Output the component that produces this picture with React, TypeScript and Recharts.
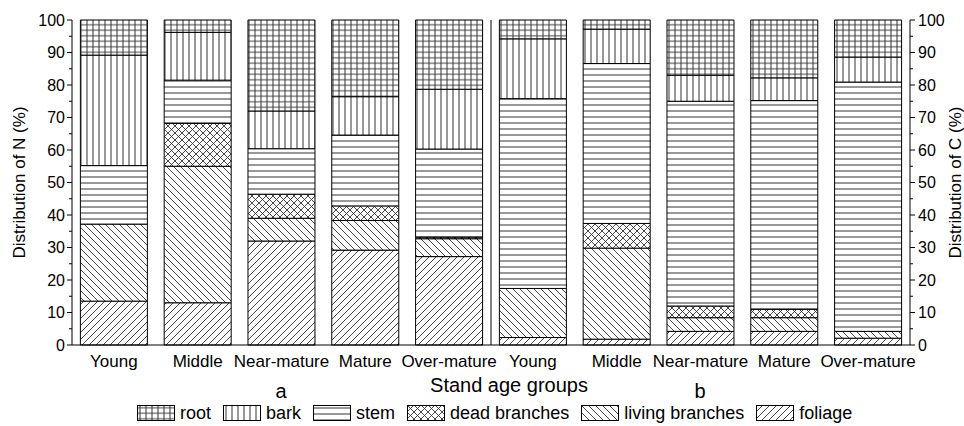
import React from "react";
import { BarChart, Bar, Line, XAxis, YAxis, ReferenceLine } from "recharts";

// stand age groups, two panels: a = N, b = C
const groups = ["Young", "Middle", "Near-mature", "Mature", "Over-mature"];
const panels = ["a", "b"];

// % share of each organ, per panel (a first, then b)
const foliage = [13.5, 13.0, 32.0, 29.2, 27.2, 2.3, 1.8, 4.2, 4.2, 2.1];
const living = [23.7, 42.0, 7.0, 9.1, 5.5, 15.1, 28.0, 4.2, 4.2, 2.1];
const dead = [0, 13.2, 7.4, 4.5, 0.5, 0, 7.6, 3.6, 2.6, 0];
const stem = [18.0, 13.3, 14.0, 21.8, 27.1, 58.4, 49.2, 63.0, 64.2, 76.7];
const bark = [34.0, 14.7, 11.6, 11.8, 18.4, 18.4, 10.6, 8.0, 7.0, 7.7];
const root = [10.8, 3.8, 28.0, 23.6, 21.3, 5.8, 2.8, 17.0, 17.8, 11.4];

const yTicks = [0, 5, 10, 15, 20, 25, 30, 35, 40, 45, 50, 55, 60, 65, 70, 75, 80, 85, 90, 95, 100];

const series = [
  { key: "foliage", label: "foliage", fill: "url(#pFoliage)" },
  { key: "living", label: "living branches", fill: "url(#pLiving)" },
  { key: "dead", label: "dead branches", fill: "url(#pDead)" },
  { key: "stem", label: "stem", fill: "url(#pStem)" },
  { key: "bark", label: "bark", fill: "url(#pBark)" },
  { key: "root", label: "root", fill: "url(#pRoot)" },
];

const data = panels.flatMap((p, pi) =>
  groups.map((g, gi) => {
    const i = pi * groups.length + gi;
    return {
      key: `${g}|${p}`,
      name: g,
      foliage: foliage[i],
      living: living[i],
      dead: dead[i],
      stem: stem[i],
      bark: bark[i],
      root: root[i],
    };
  })
);

const FONT = "Arial, 'Liberation Sans', sans-serif";
const LINE = "#333";

function Patterns() {
  return (
    <svg width={0} height={0} style={{ position: "absolute" }}>
      <defs>
        <pattern id="pRoot" width={6} height={5.5} patternUnits="userSpaceOnUse">
          <rect width={6} height={5.5} fill="#fff" />
          <path d="M3,0 V5.5 M0,2.75 H6" stroke={LINE} strokeWidth={1} />
        </pattern>
        <pattern id="pBark" width={6} height={6} patternUnits="userSpaceOnUse">
          <rect width={6} height={6} fill="#fff" />
          <path d="M3,0 V6" stroke={LINE} strokeWidth={1} />
        </pattern>
        <pattern id="pStem" width={6} height={6} patternUnits="userSpaceOnUse">
          <rect width={6} height={6} fill="#fff" />
          <path d="M0,3 H6" stroke={LINE} strokeWidth={1} />
        </pattern>
        <pattern id="pDead" width={7} height={7} patternUnits="userSpaceOnUse">
          <rect width={7} height={7} fill="#fff" />
          <path d="M0,0 L7,7 M-1,6 L1,8 M6,-1 L8,1 M0,7 L7,0 M-1,1 L1,-1 M6,8 L8,6" stroke={LINE} strokeWidth={0.9} />
        </pattern>
        <pattern id="pLiving" width={7} height={7} patternUnits="userSpaceOnUse">
          <rect width={7} height={7} fill="#fff" />
          <path d="M0,0 L7,7 M-1,6 L1,8 M6,-1 L8,1" stroke={LINE} strokeWidth={0.9} />
        </pattern>
        <pattern id="pFoliage" width={7} height={7} patternUnits="userSpaceOnUse">
          <rect width={7} height={7} fill="#fff" />
          <path d="M0,7 L7,0 M-1,1 L1,-1 M6,8 L8,6" stroke={LINE} strokeWidth={0.9} />
        </pattern>
      </defs>
    </svg>
  );
}

function LeftTick(props: any) {
  const { x, y, payload } = props;
  const major = payload.value % 10 === 0;
  return (
    <g>
      <line x1={x} x2={x - (major ? 5 : 3)} y1={y} y2={y} stroke="#000" />
      {major && (
        <text x={x - 7} y={y} dy="0.36em" textAnchor="end" fontSize={16} fontFamily={FONT} fill="#000">
          {payload.value}
        </text>
      )}
    </g>
  );
}

function RightTick(props: any) {
  const { x, y, payload } = props;
  const major = payload.value % 10 === 0;
  return (
    <g>
      <line x1={x} x2={x + (major ? 5 : 3)} y1={y} y2={y} stroke="#000" />
      {major && (
        <text x={x + 8} y={y} dy="0.36em" textAnchor="start" fontSize={16} fontFamily={FONT} fill="#000">
          {payload.value}
        </text>
      )}
    </g>
  );
}

function SideTitle(props: any) {
  const { viewBox, value, dxFromLeft } = props;
  const cx = viewBox.x + dxFromLeft;
  const cy = viewBox.y + viewBox.height / 2;
  return (
    <text
      x={cx}
      y={cy}
      transform={`rotate(-90, ${cx}, ${cy})`}
      textAnchor="middle"
      dominantBaseline="central"
      fontSize={17}
      fontFamily={FONT}
      fill="#000"
    >
      {value}
    </text>
  );
}

function BottomTitle(props: any) {
  const { viewBox } = props;
  return (
    <text
      x={viewBox.x + viewBox.width / 2 + 18}
      y={viewBox.y + 47}
      textAnchor="middle"
      fontSize={20}
      fontFamily={FONT}
      fill="#000"
    >
      Stand age groups
    </text>
  );
}

const legendOrder = ["root", "bark", "stem", "dead", "living", "foliage"];

function LegendRow() {
  return (
    <div
      style={{
        position: "absolute",
        left: 137,
        top: 405,
        height: 16,
        display: "flex",
        alignItems: "center",
        fontFamily: FONT,
        fontSize: 18,
        color: "#000",
        whiteSpace: "nowrap",
      }}
    >
      {legendOrder.map((k) => {
        const s = series.find((d) => d.key === k)!;
        return (
          <div key={k} style={{ display: "flex", alignItems: "center", marginRight: 12 }}>
            <svg width={38} height={16} style={{ marginRight: 5 }}>
              <rect x={0.5} y={0.5} width={37} height={15} fill={s.fill} stroke="#000" />
            </svg>
            <span style={{ lineHeight: "16px" }}>{s.label}</span>
          </div>
        );
      })}
    </div>
  );
}

const panelMark = {
  position: "absolute" as const,
  top: 383,
  width: 20,
  height: 16,
  lineHeight: "16px",
  textAlign: "center" as const,
  fontFamily: FONT,
  fontSize: 20,
};

export default function App() {
  return (
    <div style={{ position: "absolute", left: 0, top: 0, width: 964, height: 426, background: "#fff" }}>
      <Patterns />
      <BarChart
        width={964}
        height={426}
        data={data}
        margin={{ top: 20, right: 0, bottom: 0, left: 0 }}
        barCategoryGap="10%"
      >
        <XAxis
          dataKey="key"
          height={81}
          interval={0}
          tickLine={false}
          tickSize={0}
          tickMargin={10}
          axisLine={{ stroke: "#000" }}
          tickFormatter={(v: string) => v.split("|")[0]}
          tick={{ fill: "#000", fontSize: 17, fontFamily: FONT }}
          label={<BottomTitle />}
        />
        <YAxis
          width={72}
          domain={[0, 100]}
          ticks={yTicks}
          interval={0}
          tickSize={0}
          tickMargin={0}
          tickLine={false}
          axisLine={{ stroke: "#000" }}
          tick={<LeftTick />}
          label={<SideTitle value="Distribution of N (%)" dxFromLeft={19} />}
        />
        <YAxis
          yAxisId="right"
          orientation="right"
          width={54}
          domain={[0, 100]}
          ticks={yTicks}
          interval={0}
          tickSize={0}
          tickMargin={0}
          tickLine={false}
          axisLine={{ stroke: "#000" }}
          tick={<RightTick />}
          label={<SideTitle value="Distribution of C (%)" dxFromLeft={45} />}
        />
        {series.map((s) => (
          <Bar
            key={s.key}
            dataKey={s.key}
            name={s.label}
            stackId="organ"
            fill={s.fill}
            stroke="#000"
            strokeWidth={1}
            isAnimationActive={false}
          />
        ))}
        {/* invisible series so the right-hand axis has data bound to it */}
        <Line
          yAxisId="right"
          dataKey="stem"
          stroke="none"
          dot={false}
          activeDot={false}
          legendType="none"
          isAnimationActive={false}
        />
        <ReferenceLine x={`${groups[0]}|b`} position="start" stroke="#000" strokeWidth={1} />
      </BarChart>
      <LegendRow />
      <div style={{ ...panelMark, left: 271 }}>a</div>
      <div style={{ ...panelMark, left: 690 }}>b</div>
    </div>
  );
}
